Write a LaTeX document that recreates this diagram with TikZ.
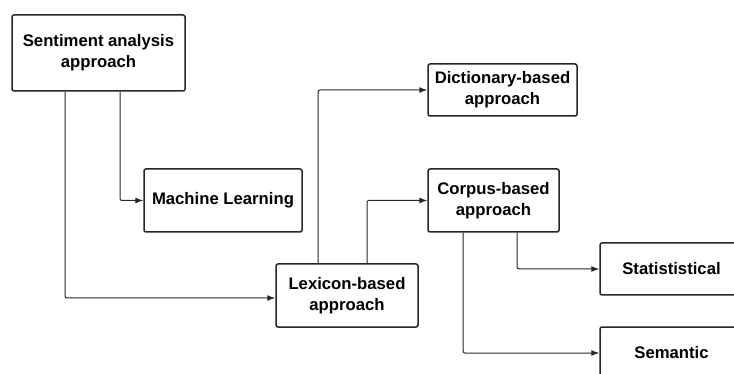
\documentclass[tikz,border=0pt]{standalone}
\usepackage{fontspec}
\setmainfont{Liberation Sans}
\usepackage{tikz}
\usetikzlibrary{arrows.meta}
\usetikzlibrary{positioning}

\begin{document}
\begin{tikzpicture}[x=1pt, y=-1pt,
    box/.style={draw=black!85, line width=1.5pt, rounded corners=2pt, fill=white,
        inner sep=0pt, align=center, font=\fontsize{16.7}{21}\selectfont\bfseries},
    arr/.style={draw=black!85, line width=1pt, rounded corners=2pt,
        -{Latex[length=8pt,width=6pt]}}]
    % Frame
    \useasboundingbox (0,0) rectangle (734,374);
    \clip (0,0) rectangle (734,374);

    % Draw the boxes
    \node[box, minimum width=173pt, minimum height=76pt] (senti) at (98.5,53) {Sentiment analysis\\approach};
    \node[box, minimum width=158pt, minimum height=63pt] (ml) at (223,200.5) {Machine Learning};
    \node[box, minimum width=142pt, minimum height=63pt] (lex) at (347,295.5) {Lexicon-based\\approach};
    \node[box, minimum width=149pt, minimum height=52pt] (dict) at (502.5,90) {Dictionary-based\\approach};
    \node[box, minimum width=131pt, minimum height=63pt] (corp) at (493.5,200.5) {Corpus-based\\approach};
    \node[box, minimum width=143pt, minimum height=52pt] (stat) at (671.5,269) {Statististical};
    \node[box, minimum width=143pt, minimum height=52pt] (sem) at (671.5,353) {Semantic};

    % Draw the connectors
    \draw[arr] ([xshift=21.5pt]senti.south) |- (ml.west);
    \draw[arr] ([xshift=-33.5pt]senti.south) |- ([yshift=-2.5pt]lex.west);
    \draw[arr] ([xshift=-29pt]lex.north) |- (dict.west);
    \draw[arr] ([xshift=20pt]lex.north) |- (corp.west);
    \draw[arr] ([xshift=23.5pt]corp.south) |- (stat.west);
    \draw[arr] ([xshift=-30.5pt]corp.south) |- (sem.west);

\end{tikzpicture}
\end{document}
